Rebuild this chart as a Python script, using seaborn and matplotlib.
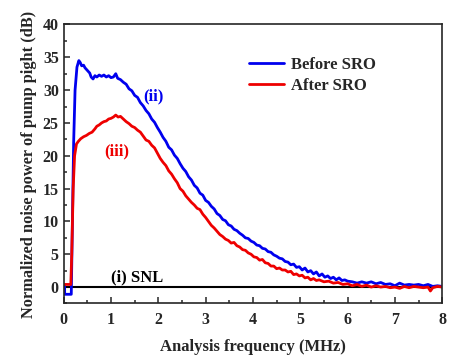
import numpy as np
import pandas as pd
import matplotlib
matplotlib.use('Agg')
import matplotlib.pyplot as plt
import seaborn as sns
from matplotlib.ticker import MultipleLocator

sns.set_style('ticks')
plt.rcParams['font.family'] = ['Liberation Serif', 'DejaVu Serif']
plt.rcParams['font.weight'] = 'bold'

# 曲线 (ii) Before SRO
blue_freq = [0.02, 0.02, 0.16, 0.18, 0.21, 0.24, 0.28, 0.32, 0.35, 0.38, 0.42, 0.45, 0.50, 0.55, 0.58,
             0.62, 0.66, 0.70, 0.75, 0.80, 0.85, 0.90, 0.95, 1.00, 1.05, 1.10, 1.14, 1.20, 1.26, 1.32,
             1.38, 1.44, 1.50, 1.56, 1.62, 1.68, 1.74, 1.80, 1.86, 1.92, 1.98, 2.04, 2.10, 2.16, 2.22,
             2.28, 2.34, 2.40, 2.46, 2.52, 2.58, 2.64, 2.70, 2.76, 2.82, 2.88, 2.94, 3.00, 3.06, 3.12,
             3.18, 3.24, 3.30, 3.36, 3.42, 3.48, 3.54, 3.60, 3.66, 3.72, 3.78, 3.84, 3.90, 3.96, 4.02,
             4.08, 4.14, 4.20, 4.26, 4.32, 4.38, 4.44, 4.50, 4.56, 4.62, 4.68, 4.74, 4.80, 4.86, 4.92,
             4.98, 5.04, 5.10, 5.16, 5.22, 5.28, 5.34, 5.40, 5.46, 5.52, 5.58, 5.64, 5.70, 5.76, 5.82,
             5.88, 5.94, 6.00, 6.10, 6.20, 6.30, 6.40, 6.50, 6.60, 6.70, 6.80, 6.90, 7.00, 7.10, 7.20,
             7.30, 7.40, 7.50, 7.60, 7.70, 7.80, 7.90, 8.00]
blue_db = [0.2, -1.1, -1.1, 8.0, 22.0, 30.0, 33.5, 34.5, 34.2, 33.7, 33.8, 33.4, 33.0, 32.6, 32.0,
           31.7, 32.2, 32.0, 32.3, 32.1, 32.3, 32.0, 32.2, 31.9, 32.0, 32.5, 31.8, 31.6, 31.2, 30.9,
           30.2, 29.9, 29.2, 28.9, 28.1, 27.6, 26.9, 26.4, 25.6, 25.1, 24.3, 23.6, 22.8, 22.2, 21.3,
           20.9, 20.1, 19.6, 18.8, 18.1, 17.6, 16.8, 16.3, 15.5, 15.1, 14.3, 14.0, 13.2, 12.9, 12.3,
           11.9, 11.2, 10.9, 10.3, 10.1, 9.5, 9.3, 8.8, 8.6, 8.2, 7.9, 7.5, 7.4, 7.0, 6.8,
           6.4, 6.3, 5.9, 5.8, 5.4, 5.3, 4.9, 4.7, 4.4, 4.3, 3.9, 3.8, 3.4, 3.5, 3.0,
           3.1, 2.6, 2.9, 2.3, 2.5, 2.0, 2.3, 1.7, 2.0, 1.5, 1.7, 1.3, 1.5, 1.1, 1.4,
           1.0, 1.1, 0.9, 0.8, 0.6, 0.8, 0.6, 0.8, 0.5, 0.7, 0.4, 0.5, 0.2, 0.6, 0.3,
           0.4, 0.3, 0.4, 0.2, 0.4, 0.1, 0.2, 0.1]

# 曲线 (iii) After SRO
red_freq = [0.00, 0.15, 0.17, 0.20, 0.23, 0.27, 0.31, 0.36, 0.42, 0.48, 0.54, 0.60, 0.66, 0.70, 0.75,
            0.80, 0.85, 0.90, 0.95, 1.00, 1.05, 1.10, 1.15, 1.20, 1.26, 1.32, 1.38, 1.44, 1.50, 1.56,
            1.62, 1.68, 1.74, 1.80, 1.86, 1.92, 1.98, 2.04, 2.10, 2.16, 2.22, 2.28, 2.34, 2.40, 2.46,
            2.52, 2.58, 2.64, 2.70, 2.76, 2.82, 2.88, 2.94, 3.00, 3.06, 3.12, 3.18, 3.24, 3.30, 3.36,
            3.42, 3.48, 3.54, 3.60, 3.66, 3.72, 3.78, 3.84, 3.90, 3.96, 4.02, 4.08, 4.14, 4.20, 4.26,
            4.32, 4.38, 4.44, 4.50, 4.56, 4.62, 4.68, 4.74, 4.80, 4.86, 4.92, 4.98, 5.04, 5.10, 5.16,
            5.22, 5.28, 5.34, 5.40, 5.50, 5.60, 5.70, 5.80, 5.90, 6.00, 6.10, 6.20, 6.30, 6.40, 6.50,
            6.60, 6.70, 6.80, 6.90, 7.00, 7.10, 7.20, 7.30, 7.40, 7.50, 7.60, 7.70, 7.75, 7.80, 7.90,
            8.00]
red_db = [0.4, 0.4, 5.0, 15.0, 20.0, 21.8, 22.2, 22.6, 22.9, 23.1, 23.4, 23.6, 24.1, 24.5, 24.7,
          25.0, 25.2, 25.3, 25.6, 25.7, 25.9, 26.2, 25.9, 26.0, 25.6, 25.2, 24.9, 24.5, 24.3, 23.9,
          23.6, 23.0, 22.4, 22.2, 21.6, 21.2, 20.4, 19.6, 19.0, 18.5, 17.7, 17.2, 16.5, 15.9, 15.0,
          14.6, 13.9, 13.4, 12.9, 12.5, 12.0, 11.8, 11.1, 10.6, 10.0, 9.4, 9.0, 8.5, 8.0, 7.7,
          7.3, 7.1, 6.7, 6.8, 6.3, 6.1, 5.7, 5.6, 5.2, 5.0, 4.6, 4.5, 4.1, 4.2, 3.7,
          3.6, 3.2, 3.2, 2.8, 2.9, 2.6, 2.6, 2.3, 2.4, 1.9, 2.0, 1.7, 1.8, 1.4, 1.5,
          1.1, 1.3, 1.0, 1.1, 0.8, 0.9, 0.6, 0.7, 0.4, 0.5, 0.2, 0.4, 0.1, 0.3, 0.0,
          0.2, 0.0, 0.1, -0.1, 0.0, -0.2, 0.1, -0.1, 0.1, 0.0, -0.1, 0.0, -0.6, -0.1, 0.1,
          0.0]

# (i) SNL
snl_freq = [0.0, 8.0]
snl_db = [0.0, 0.0]

fig = plt.figure(figsize=(4.65, 3.6), dpi=100)
ax = fig.add_axes([0.137, 0.157, 0.814, 0.775])

sns.lineplot(x=snl_freq, y=snl_db, color='black', lw=1.5, ax=ax)
sns.lineplot(x=blue_freq, y=blue_db, color='#0000ee', lw=2.0, estimator=None, sort=False,
             ax=ax, label='Before SRO')
sns.lineplot(x=red_freq, y=red_db, color='#ee0000', lw=2.0, estimator=None, sort=False,
             ax=ax, label='After SRO')

ax.set_xlim(0, 8)
ax.set_ylim(-2.5, 40)
ax.xaxis.set_major_locator(MultipleLocator(1))
ax.xaxis.set_minor_locator(MultipleLocator(0.5))
ax.yaxis.set_major_locator(MultipleLocator(5))
ax.yaxis.set_minor_locator(MultipleLocator(2.5))
ax.tick_params(which='both', direction='in', labelsize=11.5, width=1.1)
ax.tick_params(which='major', length=4)
ax.tick_params(axis='x', which='major', pad=6)
ax.tick_params(which='minor', length=2.5)
for lbl in ax.get_xticklabels() + ax.get_yticklabels():
    lbl.set_fontweight('bold')
for s in ax.spines.values():
    s.set_linewidth(1.2)
    s.set_visible(True)

ax.set_xlabel('Analysis frequency (MHz)', fontsize=12, fontweight='bold', labelpad=8)
ax.set_ylabel('Normalized noise power of pump pight (dB)', fontsize=11.8, fontweight='bold', labelpad=4)

ax.text(1.89, 29.0, '(ii)', color='#0000ee', fontsize=12, fontweight='bold', ha='center', va='center')
ax.text(1.13, 20.7, '(iii)', color='#ee0000', fontsize=12, fontweight='bold', ha='center', va='center')
ax.text(1.56, 1.4, '(i) SNL', color='black', fontsize=12, fontweight='bold', ha='center', va='center')

leg = ax.legend(loc='upper left', bbox_to_anchor=(0.473, 0.908), frameon=False, fontsize=12,
                handlelength=2.1, handletextpad=0.4, labelspacing=0.3, borderaxespad=0)
for t in leg.get_texts():
    t.set_fontweight('bold')

plt.savefig('out.png', dpi=100)
